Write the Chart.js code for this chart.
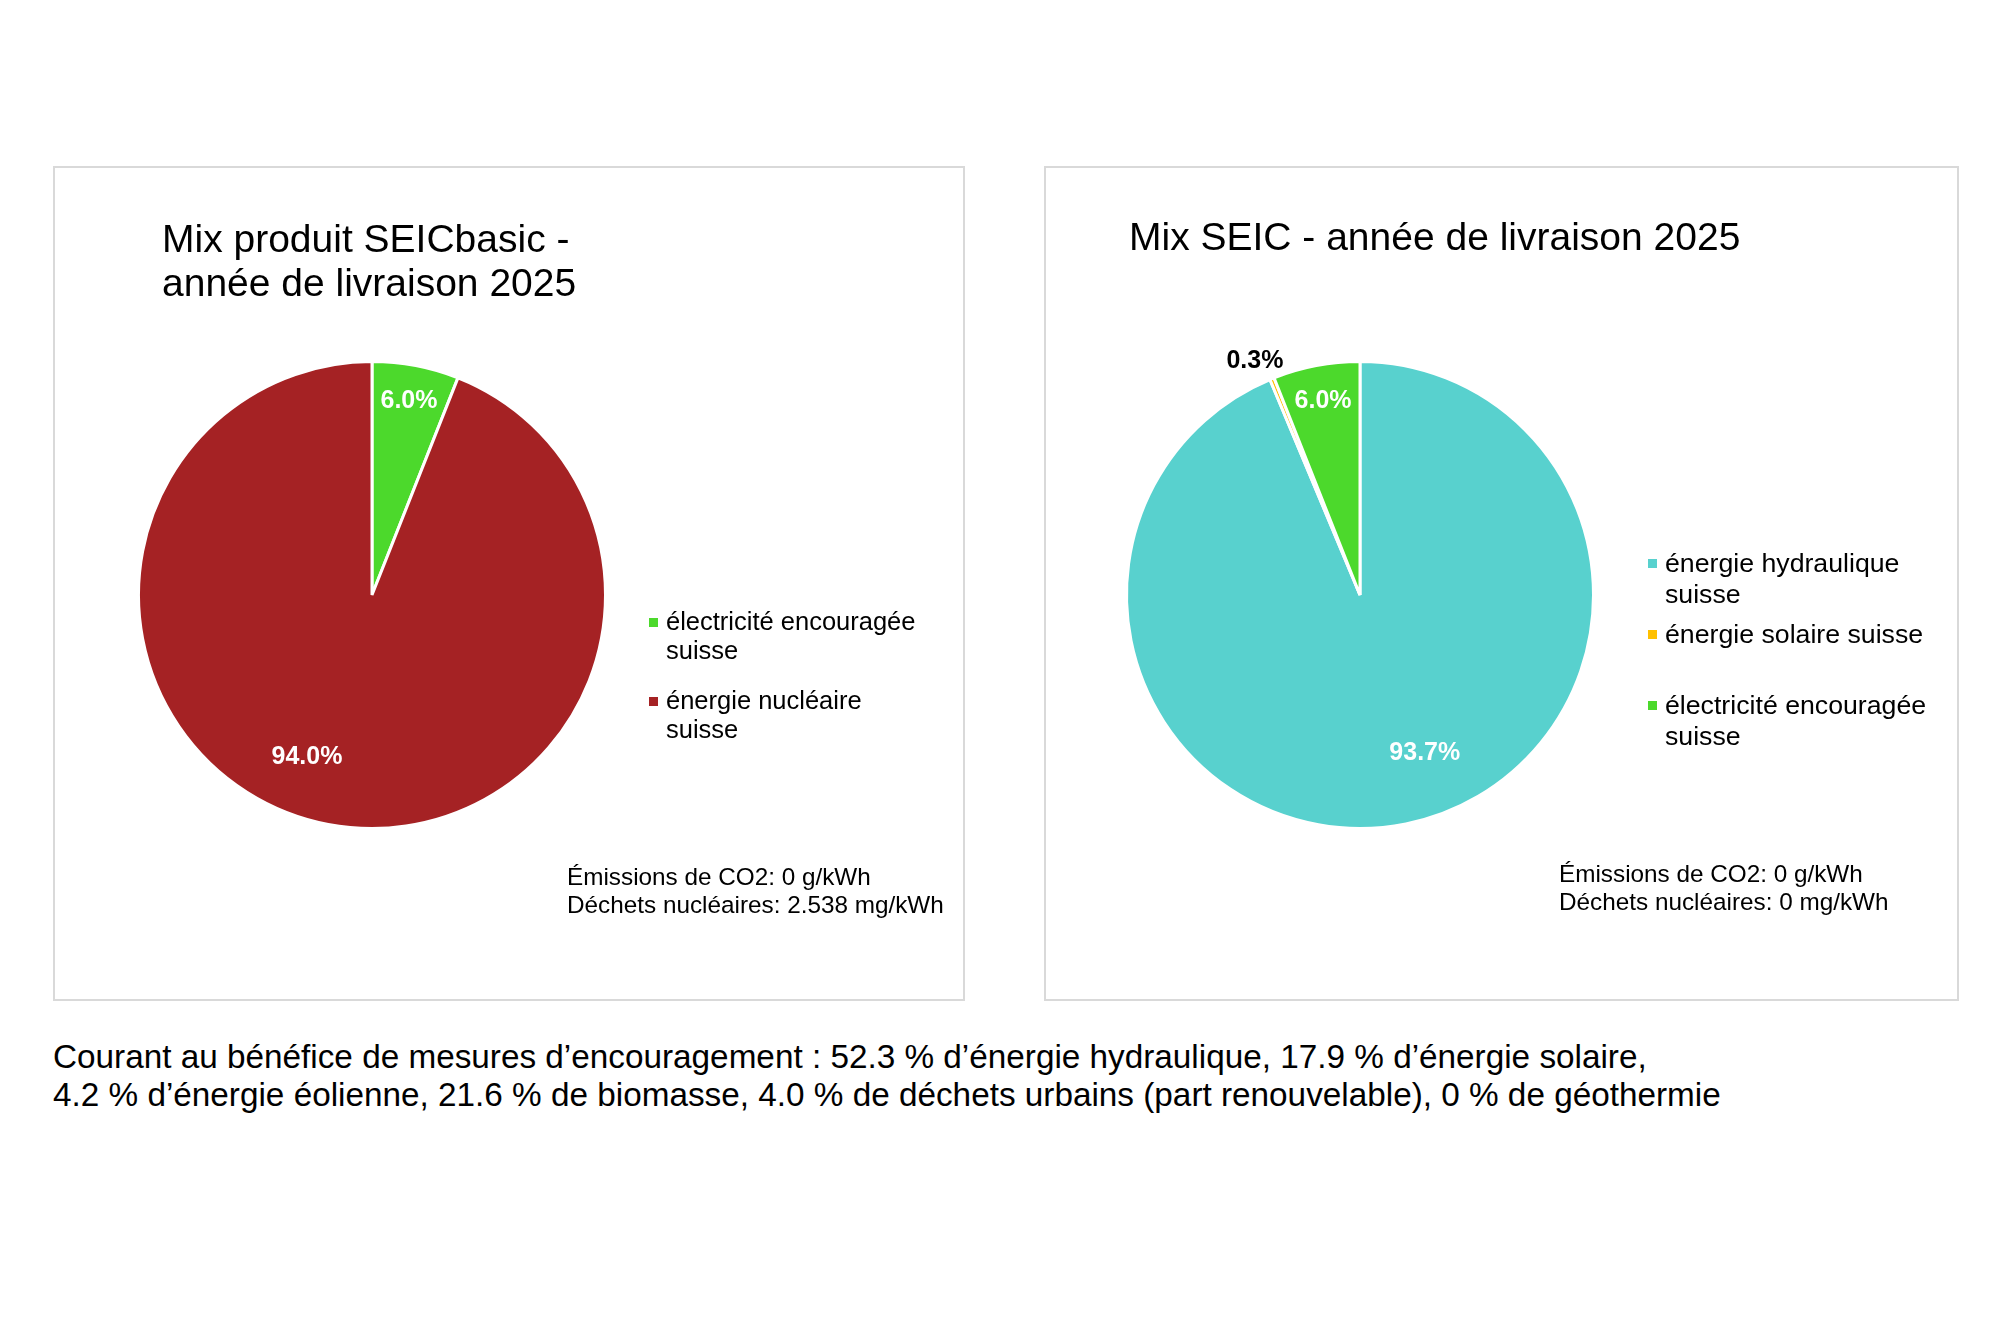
<!DOCTYPE html>
<html>
<head>
<meta charset="utf-8">
<script src="https://cdn.jsdelivr.net/npm/chart.js@4.4.1/dist/chart.umd.min.js"></script>
<style>
body { margin: 0; background: #fff; width: 1989px; height: 1322px; position: relative; overflow: hidden;
       font-family: "Liberation Sans", Arial, sans-serif; color: #000; }
.panel { position: absolute; top: 166px; width: 908px; height: 831px; border: 2px solid #d9d9d9; }
.panel canvas { position: absolute; left: 0; top: 0; }
.title { position: absolute; font-size: 39px; line-height: 44px; white-space: nowrap; }
.legend { position: absolute; white-space: nowrap; }
.legend .item { position: absolute; left: 0; }
.legend .sw { position: absolute; width: 9px; height: 9px; left: -17px; }
.stats { position: absolute; font-size: 24.3px; line-height: 28px; white-space: nowrap; }
.note { position: absolute; left: 53px; top: 1038px; font-size: 33.3px; line-height: 38px; white-space: nowrap; }
</style>
</head>
<body>

<div class="panel" id="p1" style="left:53px">
  <canvas id="c1" width="908" height="831"></canvas>
  <div class="title" style="left:107px; top:49px">Mix produit SEICbasic -<br>année de livraison 2025</div>
  <div class="legend" id="l1" style="left:611px; top:439px; font-size:25.5px; line-height:29px"></div>
  <div class="stats" style="left:512px; top:695px">Émissions de CO2: 0 g/kWh<br>Déchets nucléaires: 2.538 mg/kWh</div>
</div>

<div class="panel" id="p2" style="left:1044px; width:911px">
  <canvas id="c2" width="911" height="831"></canvas>
  <div class="title" style="left:83px; top:47px">Mix SEIC - année de livraison 2025</div>
  <div class="legend" id="l2" style="left:619px; top:380px; font-size:26.7px; line-height:31px"></div>
  <div class="stats" style="left:513px; top:692px">Émissions de CO2: 0 g/kWh<br>Déchets nucléaires: 0 mg/kWh</div>
</div>

<div class="note">Courant au bénéfice de mesures d’encouragement : 52.3 % d’énergie hydraulique, 17.9 % d’énergie solaire,<br>4.2 % d’énergie éolienne, 21.6 % de biomasse, 4.0 % de déchets urbains (part renouvelable), 0 % de géothermie</div>

<script>
// left chart: SEICbasic
const basicLabels = [["électricité encouragée", "suisse"], ["énergie nucléaire", "suisse"]];
const basicValues = [6.0, 94.0];
const basicColors = ["#4cd92c", "#a52224"];

// right chart: SEIC
const seicLabels = [["énergie hydraulique", "suisse"], ["énergie solaire suisse"], ["électricité encouragée", "suisse"]];
const seicValues = [93.7, 0.3, 6.0];
const seicColors = ["#58d1ce", "#ffc000", "#4cd92c"];

// percentage labels drawn on the slices
const sliceLabels = {
    id: "sliceLabels",
    afterDatasetsDraw(chart, args, opts) {
        const ctx = chart.ctx;
        const meta = chart.getDatasetMeta(0);
        const values = chart.data.datasets[0].data;
        ctx.save();
        ctx.font = 'bold 25px "Liberation Sans", Arial, sans-serif';
        ctx.textAlign = "center";
        ctx.textBaseline = "middle";
        meta.data.forEach((arc, i) => {
            const p = arc.getProps(["x", "y", "startAngle", "endAngle", "outerRadius"], true);
            const a = (p.startAngle + p.endAngle) / 2 + (opts.shift[i] || 0) * Math.PI / 180;
            const d = p.outerRadius * opts.dist[i];
            ctx.fillStyle = opts.colors[i];
            ctx.fillText(values[i].toFixed(1) + "%", p.x + Math.cos(a) * d, p.y + Math.sin(a) * d);
        });
        ctx.restore();
    }
};

function pie(id, labels, values, colors, padding, labelOpts) {
    return new Chart(id, {
        type: "pie",
        data: {
            labels: labels,
            datasets: [{
                data: values,
                backgroundColor: colors,
                borderColor: "#ffffff",
                borderWidth: 3,
                hoverOffset: 0
            }]
        },
        options: {
            responsive: false,
            animation: false,
            events: [],
            layout: { padding: padding },
            plugins: {
                legend: { display: false },
                tooltip: { enabled: false },
                sliceLabels: labelOpts
            }
        },
        plugins: [sliceLabels]
    });
}

function legend(elId, labels, colors, slot) {
    const el = document.getElementById(elId);
    labels.forEach((lines, i) => {
        const item = document.createElement("div");
        item.className = "item";
        item.style.top = (i * slot) + "px";
        item.innerHTML = '<span class="sw" style="background:' + colors[i] + '; top:11px"></span>' + lines.join("<br>");
        el.appendChild(item);
    });
}

pie("c1", basicLabels, basicValues, basicColors,
    { left: 82, top: 192, right: 356, bottom: 169 },
    { dist: [0.845, 0.75], shift: [0, 11], colors: ["#fff", "#fff"] });
pie("c2", seicLabels, seicValues, seicColors,
    { left: 79, top: 192, right: 362, bottom: 169 },
    { dist: [0.73, 1.10, 0.845], shift: [-11, -2, 0], colors: ["#fff", "#000", "#fff"] });

legend("l1", basicLabels, basicColors, 79);
legend("l2", seicLabels, seicColors, 71);
</script>
</body>
</html>
